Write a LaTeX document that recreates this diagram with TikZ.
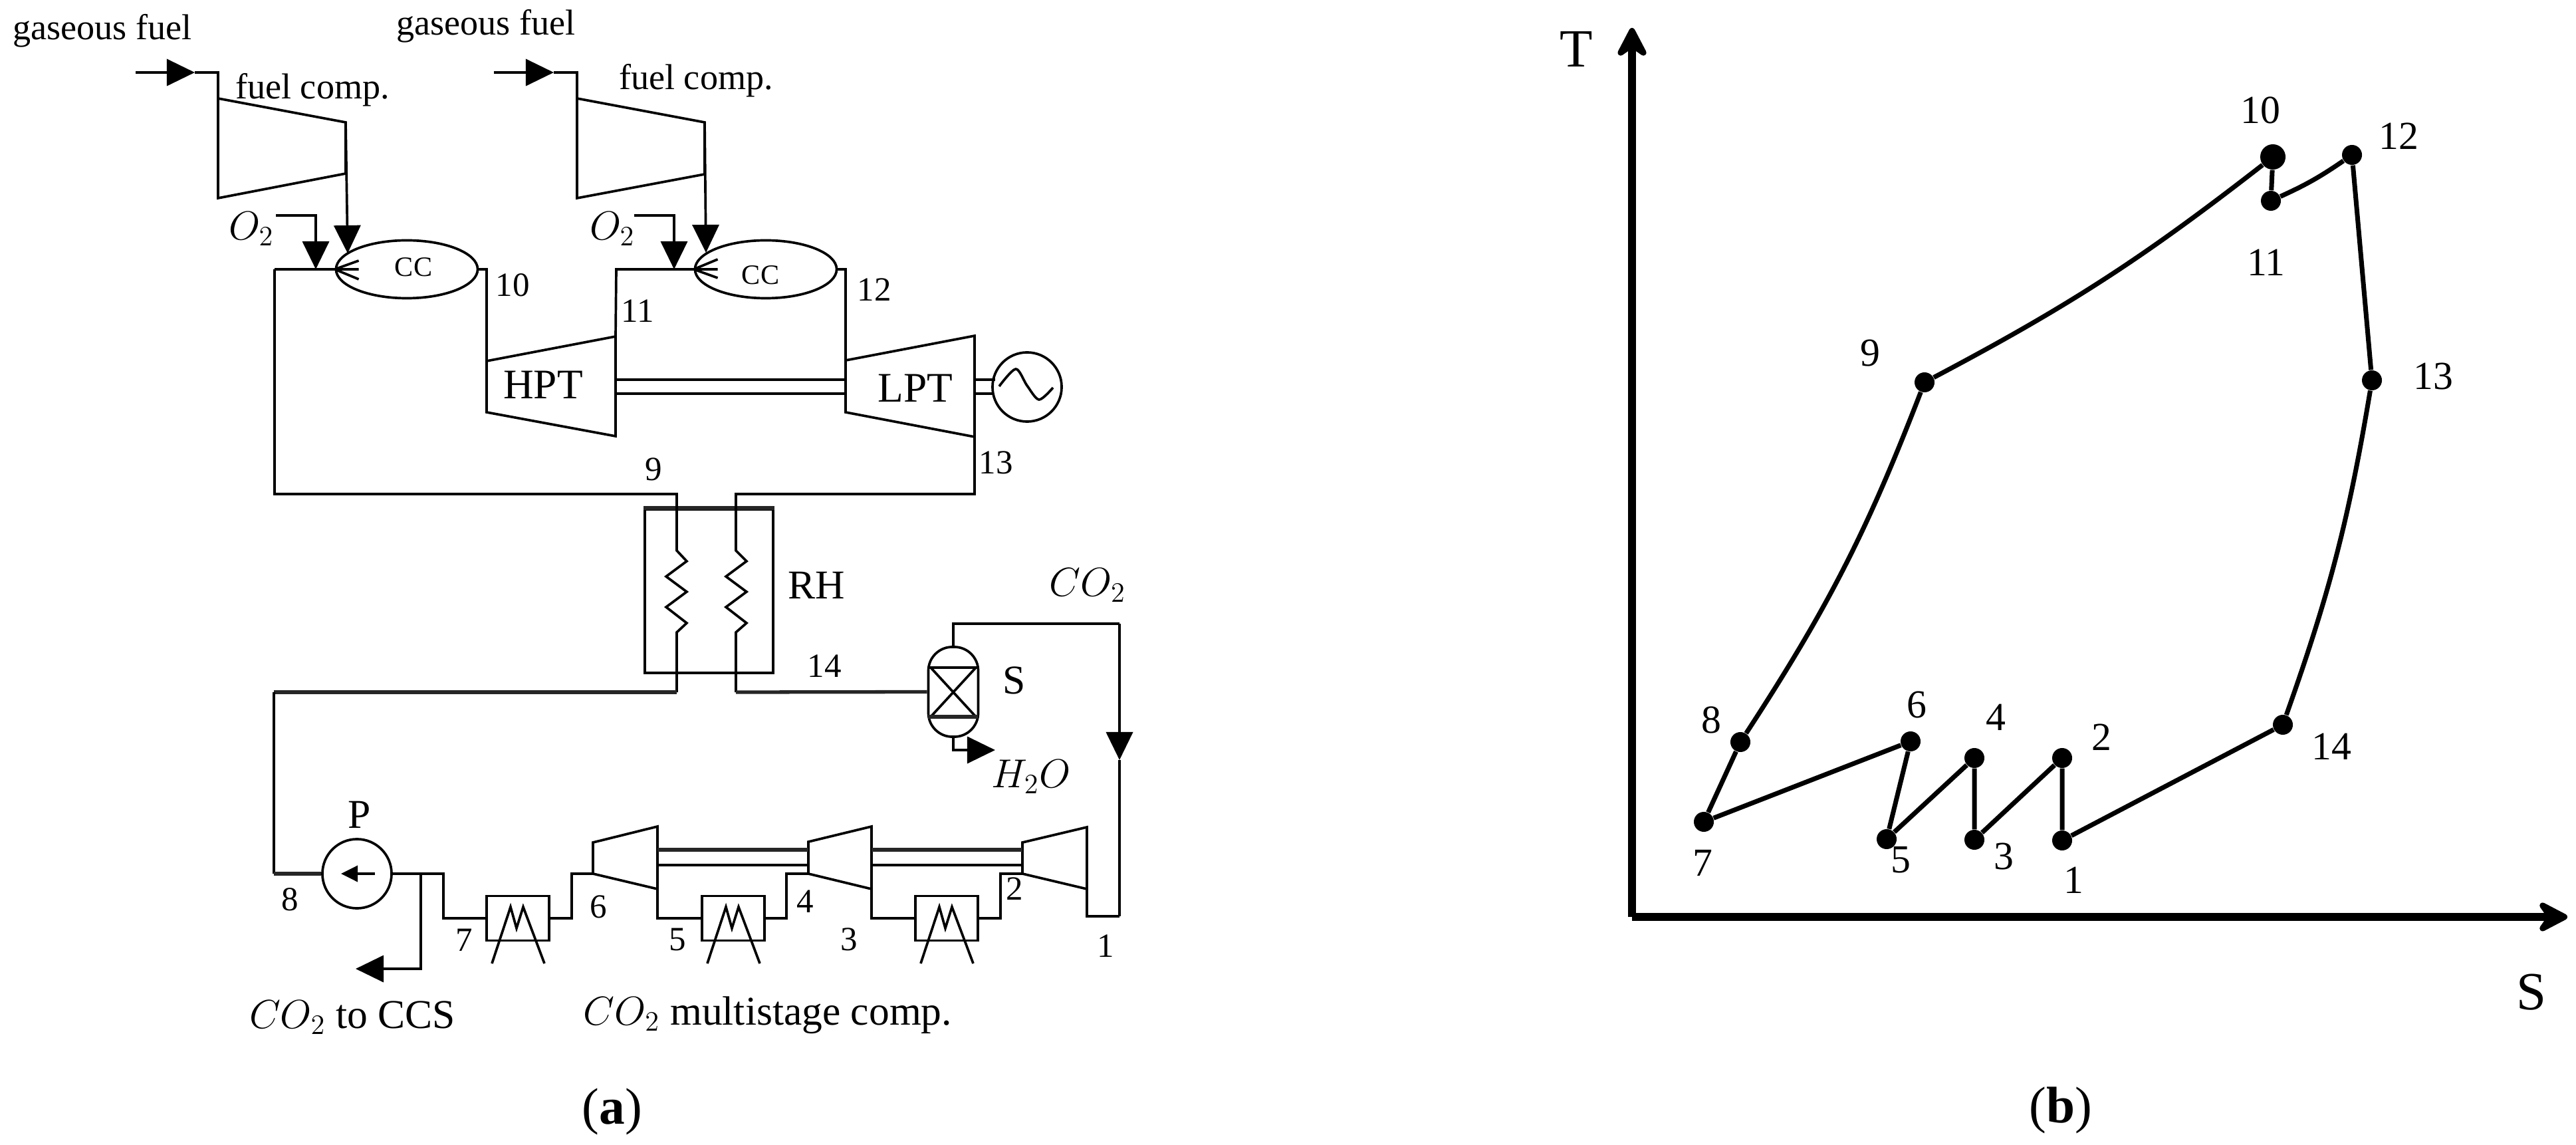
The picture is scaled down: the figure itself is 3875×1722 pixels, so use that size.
\documentclass[tikz,border=0pt]{standalone}
\usepackage{amsmath,amssymb}
\usepackage{fontspec}
\setmainfont{Liberation Serif}
\usetikzlibrary{arrows.meta,shapes.geometric}

\begin{document}
\begin{tikzpicture}[
  x=0.01cm, y=-0.01cm,
  pipe/.style={line width=1.05pt, draw=black, line join=miter},
  heavypipe/.style={line width=1.5pt, draw=black!85},
  flow/.style={pipe, -{Triangle[length=0.42cm,width=0.4cm]}},
  axis/.style={line width=3.4pt, -{Stealth[length=0.56cm,width=0.58cm,inset=0.2cm,round]}},
  cycle/.style={line width=2pt},
  burner/.style={ellipse, pipe, minimum width=2.13cm, minimum height=0.87cm, inner sep=0pt},
  rotor/.style={circle, pipe, minimum size=1.04cm, inner sep=0pt},
  hxbox/.style={rectangle, pipe, minimum width=0.94cm, minimum height=0.67cm, inner sep=0pt},
  ptdot/.style={circle, fill=black, minimum size=0.3cm, inner sep=0pt},
  lbl/.style={inner sep=0pt, font=\fontsize{14.5pt}{14.5pt}\selectfont},
  lblfuel/.style={inner sep=0pt, font=\fontsize{15.4pt}{15.4pt}\selectfont},
  lblbig/.style={inner sep=0pt, font=\fontsize{17.5pt}{17.5pt}\selectfont},
  lblcyc/.style={inner sep=0pt, font=\fontsize{17pt}{17pt}\selectfont},
  lblcap/.style={inner sep=0pt, font=\fontsize{22pt}{22pt}\selectfont},
  lblaxis/.style={inner sep=0pt, font=\fontsize{23pt}{23pt}\selectfont}
]
  \useasboundingbox (0,0) rectangle (3875,1722);

  % (a) fuel compressors
  \coordinate (fuelAin) at (204,109);
  \coordinate (fuelAtip) at (293,109);
  \coordinate (fuelAcor) at (328,109);
  \coordinate (fuelAtop) at (328,148);
  \coordinate (fuelAout) at (520,184);
  \coordinate (fuelBin) at (743,109);
  \coordinate (fuelBtip) at (833,109);
  \coordinate (fuelBcor) at (868,109);
  \coordinate (fuelBtop) at (868,148);
  \coordinate (fuelBout) at (1060,184);
  \draw[pipe] (fuelAtop) -- (fuelAout) -- (520,261) -- (328,298) -- cycle;
  \draw[pipe] (fuelBtop) -- (fuelBout) -- (1060,262) -- (868,298) -- cycle;
  \draw[flow] (fuelAin) -- (fuelAtip);
  \draw[pipe] (fuelAtip) -- (fuelAcor) -- (fuelAtop);
  \draw[flow] (fuelBin) -- (fuelBtip);
  \draw[pipe] (fuelBtip) -- (fuelBcor) -- (fuelBtop);

  % combustors and turbines
  \node[burner] (ccA) at (612,405) {};
  \node[burner] (ccB) at (1152,405) {};
  \coordinate (ccAtip) at (523,381);
  \coordinate (ccBtip) at (1062,380);
  \draw[flow] (fuelAout) -- (ccAtip);
  \draw[flow] (fuelBout) -- (ccBtip);
  \coordinate (oxAin) at (415,324);
  \coordinate (oxAtip) at (475,405);
  \coordinate (oxBin) at (954,324);
  \coordinate (oxBtip) at (1014,405);
  \draw[flow] (oxAin) -| (oxAtip);
  \draw[flow] (oxBin) -| (oxBtip);
  \draw[pipe] ([shift={(36,-13)}]ccA.west) -- (ccA.west) -- ++(36,0) (ccA.west) -- ++(36,15);
  \draw[pipe] ([shift={(36,-15)}]ccB.west) -- (ccB.west) -- ++(36,0) (ccB.west) -- ++(36,13);

  \coordinate (hptIn) at (732,543);
  \coordinate (hptOut) at (926,506);
  \coordinate (hptLow) at (926,656);
  \coordinate (hptBot) at (732,620);
  \coordinate (lptIn) at (1272,542);
  \coordinate (lptTop) at (1466,505);
  \coordinate (lptOut) at (1466,657);
  \coordinate (lptBot) at (1272,620);
  \draw[pipe] (hptIn) -- (hptOut) -- (hptLow) -- (hptBot) -- cycle;
  \draw[pipe] (lptIn) -- (lptTop) -- (lptOut) -- (lptBot) -- cycle;
  \coordinate (hiA) at (413,405);
  \coordinate (hiB) at (927,405);
  \draw[pipe] (ccA.east) -| (hptIn);
  \draw[pipe] (ccB.east) -| (lptIn);
  \draw[pipe] (hptOut) -- (hiB) -- (ccB.west);
  \draw[pipe] (hiA) -- (ccA.west);
  \draw[pipe] (926,571) -- (1272,571) (926,592) -- (1272,592);
  \node[rotor] (gen) at (1545,582) {};
  \draw[pipe] (1466,571) -- (1497,571) (1466,592) -- (1495,592);
  \draw[pipe] plot[smooth] coordinates {(1503,581) (1528,555) (1545,580) (1563,601) (1584,583)};

  % reheater
  \node[rectangle, pipe, minimum width=1.93cm, minimum height=2.46cm, inner sep=0pt] (rh) at (1066.5,889) {};
  \draw[heavypipe] (rh.north west) -- (rh.north east);
  \coordinate (rhLt) at (1018,743);
  \coordinate (rhRt) at (1107,743);
  \coordinate (rhLb) at (1018,1041);
  \coordinate (rhRb) at (1107,1041);
  \coordinate (feedL) at (412,1041);
  \draw[pipe] (hiA) |- (rhLt) -- ++(0,85) -- ++(15,16) -- ++(-31,23) -- ++(31,23) -- ++(-31,23) -- ++(31,24) -- ++(-15,14) -- (rhLb);
  \draw[pipe] (lptOut) |- (rhRt) -- ++(0,85) -- ++(16,16) -- ++(-31,23) -- ++(31,23) -- ++(-31,23) -- ++(31,24) -- ++(-16,14) -- (rhRb);

  % separator
  \node[rectangle, pipe, rounded corners=0.36cm, minimum width=0.75cm, minimum height=1.35cm, inner sep=0pt] (sep) at (1434,1040.5) {};
  \draw[pipe] (1396,1004) -- (1471,1004) (1400,1004) -- (1468,1078) (1468,1004) -- (1400,1078);
  \draw[heavypipe] (1396,1078) -- (1471,1078);
  \draw[heavypipe] (rhRb) -- (sep.west);
  \draw[heavypipe] (rhLb) -- (feedL);
  \coordinate (co2Cor) at (1684,938);
  \coordinate (co2Tip) at (1684,1143);
  \coordinate (co2Bot) at (1684,1378);
  \draw[pipe] (sep.north) |- (co2Cor);
  \draw[flow] (co2Cor) -- (co2Tip);
  \draw[pipe] (co2Tip) -- (co2Bot);
  \coordinate (watTip) at (1497,1128);
  \draw[flow] (sep.south) |- (watTip);

  % pump, intercoolers and compressors
  \node[rotor] (pump) at (537,1314) {};
  \coordinate (pumpR) at (564,1314);
  \coordinate (pumpL) at (513,1314);
  \draw[pipe, -{Triangle[length=0.25cm,width=0.24cm]}] (pumpR) -- (pumpL);
  \coordinate (feedB) at (412,1314);
  \draw[pipe] (feedL) -- (feedB);
  \draw[heavypipe] (feedB) -- (pump.west);
  \coordinate (ccsBr) at (633,1314);
  \coordinate (ccsTip) at (535,1457);
  \draw[flow] (ccsBr) |- (ccsTip);

  \node[hxbox] (hxA) at (779,1381) {};
  \node[hxbox] (hxB) at (1103,1381) {};
  \node[hxbox] (hxC) at (1424,1381) {};
  \draw[pipe] ([shift={(-39,68)}]hxA.center) -- ++(28,-85) -- ++(9,32) -- ++(10,-32) -- ++(32,85);
  \draw[pipe] ([shift={(-39,68)}]hxB.center) -- ++(28,-85) -- ++(9,32) -- ++(10,-32) -- ++(32,85);
  \draw[pipe] ([shift={(-39,68)}]hxC.center) -- ++(28,-85) -- ++(9,32) -- ++(10,-32) -- ++(32,85);

  \coordinate (cAin) at (892,1314);
  \coordinate (cAout) at (989,1337);
  \coordinate (cBin) at (1216,1314);
  \coordinate (cBout) at (1311,1337);
  \coordinate (cCin) at (1538,1314);
  \coordinate (cCout) at (1635,1337);
  \draw[pipe] (cAin) -- (892,1267) -- (989,1243) -- (cAout) -- cycle;
  \draw[pipe] (cBin) -- (1216,1266) -- (1311,1243) -- (cBout) -- cycle;
  \draw[pipe] (cCin) -- (1538,1267) -- (1635,1244) -- (cCout) -- cycle;
  \draw[pipe] (989,1301) -- (1216,1301) (1311,1301) -- (1538,1301);
  \draw[heavypipe] (989,1278) -- (1216,1278) (1311,1278) -- (1538,1278);
  \coordinate (jP) at (667,1314);
  \coordinate (jA) at (860,1314);
  \coordinate (jB) at (1183,1314);
  \coordinate (jC) at (1505,1314);
  \draw[pipe] (pump.east) -- (jP) |- (hxA.west);
  \draw[pipe] (hxA.east) -| (jA) -- (cAin);
  \draw[pipe] (cAout) |- (hxB.west);
  \draw[pipe] (hxB.east) -| (jB) -- (cBin);
  \draw[pipe] (cBout) |- (hxC.west);
  \draw[pipe] (hxC.east) -| (jC) -- (cCin);
  \draw[pipe] (co2Bot) -| (cCout);

  % labels of (a)
  \node[lblfuel] (fuelAlbl) at (154,46) {gaseous fuel};
  \node[lblfuel] (fuelBlbl) at (731,39) {gaseous fuel};
  \node[lblfuel] (compAlbl) at (470,135) {fuel comp.};
  \node[lblfuel] (compBlbl) at (1047,121) {fuel comp.};
  \node[lblbig] (oxAlbl) at (378,344) {$O_2$};
  \node[lblbig] (oxBlbl) at (921,344) {$O_2$};
  \node[inner sep=0pt, font=\fontsize{12pt}{12pt}\selectfont] (ccAlbl) at (622,402) {CC};
  \node[inner sep=0pt, font=\fontsize{12pt}{12pt}\selectfont] (ccBlbl) at (1144,414) {CC};
  \node[inner sep=0pt, font=\fontsize{18pt}{18pt}\selectfont] (hptLbl) at (817,579) {HPT};
  \node[inner sep=0pt, font=\fontsize{18pt}{18pt}\selectfont] (lptLbl) at (1377,584) {LPT};
  \node[lblbig] (rhLbl) at (1228,880) {RH};
  \node[lblbig] (sepLbl) at (1526,1023) {S};
  \node[lblbig] (co2Lbl) at (1636,880) {$CO_2$};
  \node[lblbig] (watLbl) at (1551,1168) {$H_2O$};
  \node[lblbig] (pumpLbl) at (541,1225) {P};
  \node[lblbig] (ccsLbl) at (530,1530) {$CO_2$ to CCS};
  \node[lblbig] (multiLbl) at (1155,1527) {$CO_2$ multistage comp.};
  \node[lblcap] (capA) at (921,1672) {(\textbf{a})};
  \node[lbl] (a1) at (1663,1423) {1};
  \node[lbl] (a2) at (1526,1337) {2};
  \node[lbl] (a3) at (1277,1413) {3};
  \node[lbl] (a4) at (1211,1356) {4};
  \node[lbl] (a5) at (1019,1413) {5};
  \node[lbl] (a6) at (900,1364) {6};
  \node[lbl] (a7) at (698,1414) {7};
  \node[lbl] (a8) at (436,1353) {8};
  \node[lbl] (a9) at (983,706) {9};
  \node[lbl] (a10) at (771,429) {10};
  \node[lbl] (a11) at (959,468) {11};
  \node[lbl] (a12) at (1315,436) {12};
  \node[lbl] (a13) at (1498,696) {13};
  \node[lbl] (a14) at (1240,1002) {14};

  % (b) T-S diagram
  \coordinate (orig) at (2455,1379);
  \coordinate (topT) at (2455,42);
  \coordinate (endS) at (3862,1379);
  \draw[axis] (orig) -- (topT);
  \draw[axis] (orig) -- (endS);
  \node[lblaxis] (tLbl) at (2371,74) {T};
  \node[lblaxis] (sLbl) at (3808,1492) {S};

  \node[ptdot] (p1) at (3102,1264) {};
  \node[ptdot] (p2) at (3102,1140) {};
  \node[ptdot] (p3) at (2970,1263) {};
  \node[ptdot] (p4) at (2970,1140) {};
  \node[ptdot] (p5) at (2838,1262) {};
  \node[ptdot] (p6) at (2874,1115) {};
  \node[ptdot] (p7) at (2563,1236) {};
  \node[ptdot] (p8) at (2618,1116) {};
  \node[ptdot] (p9) at (2895,575) {};
  \node[ptdot, minimum width=0.38cm] (p10) at (3419,236) {};
  \node[ptdot] (p11) at (3416,302) {};
  \node[ptdot] (p12) at (3538,233) {};
  \node[ptdot] (p13) at (3568,572) {};
  \node[ptdot] (p14) at (3434,1090) {};
  \draw[cycle] (p14) -- (p1) -- (p2) -- (p3) -- (p4) -- (p5) -- (p6) -- (p7) -- (p8);
  \draw[cycle] (p8) to[bend right=6] (p9);
  \draw[cycle] (p9) to[bend right=5] (p10);
  \draw[cycle] (p10) -- (p11);
  \draw[cycle] (p11) to[bend right=5] (p12);
  \draw[cycle] (p12) -- (p13);
  \draw[cycle] (p13) to[bend left=5] (p14);

  \node[lblcyc] (b1) at (3119,1324) {1};
  \node[lblcyc] (b2) at (3161,1109) {2};
  \node[lblcyc] (b3) at (3014,1288) {3};
  \node[lblcyc] (b4) at (3002,1079) {4};
  \node[lblcyc] (b5) at (2859,1293) {5};
  \node[lblcyc] (b6) at (2883,1060) {6};
  \node[lblcyc] (b7) at (2561,1298) {7};
  \node[lblcyc] (b8) at (2574,1083) {8};
  \node[lblcyc] (b9) at (2813,531) {9};
  \node[lblcyc] (b10) at (3400,166) {10};
  \node[lblcyc] (b11) at (3409,395) {11};
  \node[lblcyc] (b12) at (3608,205) {12};
  \node[lblcyc] (b13) at (3660,566) {13};
  \node[lblcyc] (b14) at (3507,1123) {14};
  \node[lblcap] (capB) at (3100,1670) {(\textbf{b})};
\end{tikzpicture}
\end{document}
